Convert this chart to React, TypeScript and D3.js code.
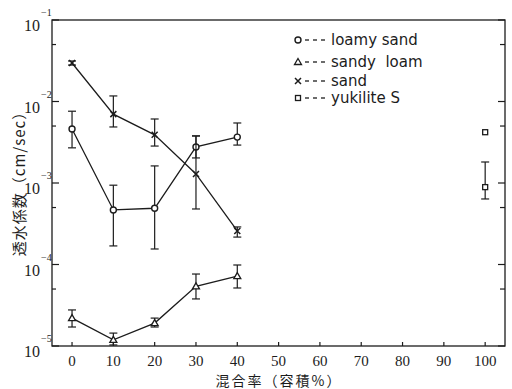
import React from "react";
import * as d3 from "d3";

const xTicks = [0, 10, 20, 30, 40, 50, 60, 70, 80, 90, 100];
const yMajor = [1e-1, 1e-2, 1e-3, 1e-4, 1e-5];
const yMajorExp = ["-1", "-2", "-3", "-4", "-5"];
const yMinor = [5e-2, 5e-3, 5e-4, 5e-5];

const mix = [0, 10, 20, 30, 40];
const loamyVal = [4.6e-3, 4.67e-4, 4.9e-4, 2.77e-3, 3.66e-3];
const loamyHi = [7.6e-3, 9.4e-4, 1.62e-3, 3.78e-3, 5.45e-3];
const loamyLo = [2.7e-3, 1.69e-4, 1.55e-4, 2.03e-3, 2.92e-3];

const sandyVal = [2.2e-5, 1.19e-5, 1.91e-5, 5.4e-5, 7.2e-5];
const sandyHi = [2.77e-5, 1.44e-5, 2.2e-5, 7.64e-5, 9.86e-5];
const sandyLo = [1.71e-5, 1.03e-5, 1.71e-5, 3.78e-5, 5.15e-5];

const sandVal = [2.97e-2, 7.0e-3, 3.9e-3, 1.29e-3, 2.58e-4];
const sandHi = [3.14e-2, 1.17e-2, 6.1e-3, 3.78e-3, 2.89e-4];
const sandLo = [2.8e-2, 4.87e-3, 2.84e-3, 4.8e-4, 2.17e-4];

const yukiX = [100, 100];
const yukiVal = [4.2e-3, 8.9e-4];
const yukiHi = [null, 1.81e-3];
const yukiLo = [null, 6.37e-4];

const legendLabels = ["loamy sand", "sandy  loam", "sand", "yukilite S"];

const INK = "#1c1c1c";
const L = 52, R = 505, T = 20, B = 346;

export default function App() {
  const x = d3.scaleLinear().domain([-4.85, 104.8]).range([L, R]);
  const y = d3.scaleLog().domain([1e-5, 1e-1]).range([B, T]);
  const line = d3.line<[number, number]>().x(d => x(d[0])).y(d => y(d[1]));

  const errBars = (xs: number[], lo: (number | null)[], hi: (number | null)[], key: string) =>
    xs.map((xv, i) => {
      const l = lo[i], h = hi[i];
      if (l == null || h == null) return null;
      const cx = x(xv);
      return (
        <g key={key + i} stroke={INK} strokeWidth={1.2}>
          <line x1={cx} x2={cx} y1={y(h)} y2={y(l)} />
          <line x1={cx - 4} x2={cx + 4} y1={y(h)} y2={y(h)} />
          <line x1={cx - 4} x2={cx + 4} y1={y(l)} y2={y(l)} />
        </g>
      );
    });

  const circle = (cx: number, cy: number, k: string) => (
    <circle key={k} cx={cx} cy={cy} r={3} fill="white" stroke={INK} strokeWidth={1.4} />
  );
  const tri = (cx: number, cy: number, k: string) => (
    <path key={k} d={`M${cx},${cy - 3.5} L${cx + 3.5},${cy + 2.5} L${cx - 3.5},${cy + 2.5} Z`} fill="white" stroke={INK} strokeWidth={1.3} />
  );
  const cross = (cx: number, cy: number, k: string) => (
    <path key={k} d={`M${cx - 3},${cy - 3} L${cx + 3},${cy + 3} M${cx - 3},${cy + 3} L${cx + 3},${cy - 3}`} stroke={INK} strokeWidth={1.5} />
  );
  const square = (cx: number, cy: number, k: string) => (
    <rect key={k} x={cx - 2.5} y={cy - 2.5} width={5} height={5} fill="white" stroke={INK} strokeWidth={1.3} />
  );

  const series = [
    { val: loamyVal, lo: loamyLo, hi: loamyHi, m: circle },
    { val: sandyVal, lo: sandyLo, hi: sandyHi, m: tri },
    { val: sandVal, lo: sandLo, hi: sandHi, m: cross },
  ];
  const markers = [circle, tri, cross, square];
  const legendY = [40, 62, 81, 98];

  return (
    <svg width={512} height={389} style={{ position: "absolute", left: 0, top: 0, background: "white" }}>
      <rect x={0} y={0} width={512} height={389} fill="white" />
      {/* frame */}
      <rect x={L} y={T} width={R - L} height={B - T} fill="none" stroke={INK} strokeWidth={1.3} />
      {/* y ticks */}
      {yMajor.map((v, i) => (
        <g key={"ym" + i}>
          <line x1={L} x2={L + 7} y1={y(v)} y2={y(v)} stroke={INK} strokeWidth={1.2} />
          <line x1={R} x2={R - 7} y1={y(v)} y2={y(v)} stroke={INK} strokeWidth={1.2} />
          <text x={40} y={y(v) + 11} fontFamily="Liberation Serif, serif" fontSize={16} textAnchor="end" fill={INK}>10</text>
          <text x={41} y={y(v) - 4} fontFamily="Liberation Serif, serif" fontSize={10} fill={INK}>{yMajorExp[i].replace("-", "−")}</text>
        </g>
      ))}
      {yMinor.map((v, i) => (
        <g key={"yn" + i}>
          <line x1={L} x2={L + 4} y1={y(v)} y2={y(v)} stroke={INK} strokeWidth={1.2} />
          <line x1={R} x2={R - 5} y1={y(v)} y2={y(v)} stroke={INK} strokeWidth={1.2} />
        </g>
      ))}
      {/* x ticks */}
      {xTicks.map((v, i) => (
        <g key={"xt" + i}>
          <line x1={x(v)} x2={x(v)} y1={B} y2={B - 4} stroke={INK} strokeWidth={1.2} />
          <text x={x(v)} y={366} fontFamily="Liberation Serif, serif" fontSize={15} textAnchor="middle" fill={INK}>{v}</text>
        </g>
      ))}
      {/* axis titles */}
      <text x={279} y={386} fontFamily="Noto Sans CJK JP, sans-serif" fontSize={14} textAnchor="middle" fill={INK} letterSpacing={2}>混合率（容積%）</text>
      <text transform="translate(25,180) rotate(-90)" fontFamily="Noto Sans CJK JP, sans-serif" fontSize={15} textAnchor="middle" fill={INK} letterSpacing={1}>透水係数（cm/sec）</text>
      {/* series */}
      {series.map((s, si) => (
        <g key={"s" + si}>
          <path d={line(mix.map((m, i) => [m, s.val[i]] as [number, number])) || ""} fill="none" stroke={INK} strokeWidth={1.3} />
          {errBars(mix, s.lo, s.hi, "e" + si)}
          {mix.map((m, i) => s.m(x(m), y(s.val[i]), "m" + si + "_" + i))}
        </g>
      ))}
      {errBars(yukiX, yukiLo, yukiHi, "ey")}
      {yukiX.map((m, i) => square(x(m), y(yukiVal[i]), "yk" + i))}
      {/* legend */}
      {legendLabels.map((lab, i) => (
        <g key={"lg" + i}>
          {markers[i](298, legendY[i], "lm" + i)}
          {[0, 1, 2].map(j => (
            <line key={j} x1={305 + j * 8} x2={309 + j * 8} y1={legendY[i]} y2={legendY[i]} stroke={INK} strokeWidth={1.3} />
          ))}
          <text x={331} y={legendY[i] + 5} fontFamily="DejaVu Sans, sans-serif" fontSize={15} fill={INK} style={{ whiteSpace: "pre" }}>{lab}</text>
        </g>
      ))}
    </svg>
  );
}
